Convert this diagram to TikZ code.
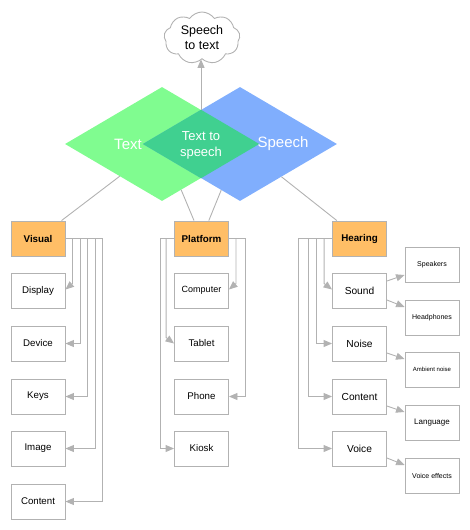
\documentclass[tikz,border=0pt]{standalone}
\usepackage{fontspec}
\setmainfont{Liberation Sans}
\usetikzlibrary{shapes.geometric,shapes.symbols,arrows.meta}
\definecolor{boxgray}{RGB}{178,178,178}
\definecolor{headorange}{RGB}{255,190,102}
\definecolor{textgreen}{RGB}{128,252,144}
\definecolor{speechblue}{RGB}{128,174,253}
\definecolor{bothgreen}{RGB}{64,208,144}
\tikzset{
  box/.style={draw=boxgray, line width=0.9pt, minimum width=54pt, minimum height=35pt, inner sep=0pt, font=\fontsize{9.7}{11}\selectfont},
  headbox/.style={box, fill=headorange, font=\bfseries\fontsize{9.8}{11}\selectfont},
  leafbox/.style={box, font=\fontsize{7}{8}\selectfont},
  link/.style={draw=boxgray, line width=0.9pt},
  conn/.style={link, -{Triangle[length=8.5pt,width=7pt]}},
  dia/.style={diamond, draw=none, minimum width=194pt, minimum height=114pt, inner sep=0pt},
  dialabel/.style={white, align=center, inner sep=0pt},
}
\begin{document}
\begin{tikzpicture}[x=1pt,y=-1pt]
            \useasboundingbox (0,0) rectangle (470,530);
            
            % Drawing the two diamonds and their overlap
            \node [dia, fill=textgreen] (textdia) at (162,144) {};%
            \node [dia, fill=speechblue] (speechdia) at (240,144) {};%
            \coordinate (ovtop) at (intersection of textdia.north--textdia.east and speechdia.west--speechdia.north);%
            \coordinate (ovbot) at (intersection of textdia.south--textdia.east and speechdia.west--speechdia.south);%
            \fill [bothgreen] (speechdia.west) -- (ovtop) -- (textdia.east) -- (ovbot) -- cycle;%
            \node [dialabel, font=\fontsize{15}{18}\selectfont] (textlbl) at (128,144) {Text};%
            \node [dialabel, font=\fontsize{15}{18}\selectfont] (speechlbl) at (283,144) {Speech};%
            \node [dialabel, font=\fontsize{13}{16}\selectfont] (bothlbl) at (201,145) {Text to\\speech};%
            
            % Marking the cloud
            \node [cloud, draw=boxgray, line width=0.9pt, cloud puffs=9, cloud puff arc=110, aspect=1.5, minimum width=76pt, minimum height=52pt, inner sep=0pt, align=center, font=\fontsize{12.5}{15}\selectfont] (cloud) at (202,38) {Speech\\to text};%
            \draw [conn] (ovtop) -- (ovtop |- cloud.south);%
            
            % Marking the three headers
            \node [headbox] (visual) at (38,238.5) {Visual};%
            \node [headbox] (platform) at (201.5,238.5) {Platform};%
            \node [headbox] (hearing) at (359.5,238.5) {Hearing};%
            \draw [link] (textdia) -- (visual);%
            \draw [link] (textdia) -- (platform);%
            \draw [link] (speechdia) -- (platform);%
            \draw [link] (speechdia) -- (hearing);%
            
            % Marking the visual column
            \node [box] (display) at (38,290.5) {Display};%
            \node [box] (device) at (38,343.5) {Device};%
            \node [box] (keys) at (38,396.5) {Keys};%
            \node [box] (image) at (38,448.5) {Image};%
            \node [box] (vcontent) at (38,501.5) {Content};%
            \draw [conn] (visual.east) -- ++(7,0) -- ++(0,45) -- ([yshift=1pt]display.east);%
            \draw [conn] (visual.east) -- ++(15,0) |- (device.east);%
            \draw [conn] (visual.east) -- ++(22,0) |- (keys.east);%
            \draw [conn] (visual.east) -- ++(30,0) |- (image.east);%
            \draw [conn] (visual.east) -- ++(37,0) |- (vcontent.east);%
            
            % Marking the platform column
            \node [box] (computer) at (201.5,290.5) {\fontsize{9}{11}\selectfont Computer};%
            \node [box] (tablet) at (201.5,343.5) {Tablet};%
            \node [box] (phone) at (201.5,396.5) {Phone};%
            \node [box] (kiosk) at (201.5,448.5) {Kiosk};%
            \draw [conn] (platform.east) -- ++(7,0) -- ++(0,45) -- ([yshift=1pt]computer.east);%
            \draw [conn] (platform.west) -- ++(-8,0) -- ++(0,99) -- (tablet.west);%
            \draw [conn] (platform.east) -- ++(16,0) |- (phone.east);%
            \draw [conn] (platform.west) -- ++(-14,0) |- (kiosk.west);%
            
            % Marking the hearing column
            \node [box, font=\fontsize{10.2}{12}\selectfont] (sound) at (359.5,290.5) {Sound};%
            \node [box, font=\fontsize{10.2}{12}\selectfont] (noise) at (359.5,343.5) {Noise};%
            \node [box, font=\fontsize{10.2}{12}\selectfont] (hcontent) at (359.5,396.5) {Content};%
            \node [box, font=\fontsize{10.2}{12}\selectfont] (voice) at (359.5,448.5) {Voice};%
            \draw [conn] (hearing.west) -- ++(-8,0) -- ++(0,45) -- ([yshift=1pt]sound.west);%
            \draw [conn] (hearing.west) -- ++(-16,0) |- (noise.west);%
            \draw [conn] (hearing.west) -- ++(-24,0) |- (hcontent.west);%
            \draw [conn] (hearing.west) -- ++(-34,0) |- (voice.west);%
            
            % Marking the leaves
            \node [leafbox] (speakers) at (432,264.5) {Speakers};%
            \node [leafbox] (headphones) at (432,317.5) {Headphones};%
            \node [leafbox, font=\fontsize{6}{7}\selectfont] (ambient) at (432,369.5) {Ambient noise};%
            \node [leafbox, font=\fontsize{8}{9}\selectfont] (language) at (432,422.5) {Language};%
            \node [leafbox] (effects) at (432,475.5) {Voice effects};%
            \draw [conn] ([yshift=9.5pt]sound.east) -- ([yshift=-10.5pt]speakers.west);%
            \draw [conn] ([yshift=-9.5pt]sound.east) -- ([yshift=10.5pt]headphones.west);%
            \draw [conn] ([yshift=-9.5pt]noise.east) -- ([yshift=10.5pt]ambient.west);%
            \draw [conn] ([yshift=-9.5pt]hcontent.east) -- ([yshift=10.5pt]language.west);%
            \draw [conn] ([yshift=-9.5pt]voice.east) -- ([yshift=10.5pt]effects.west);%
\end{tikzpicture}
\end{document}
